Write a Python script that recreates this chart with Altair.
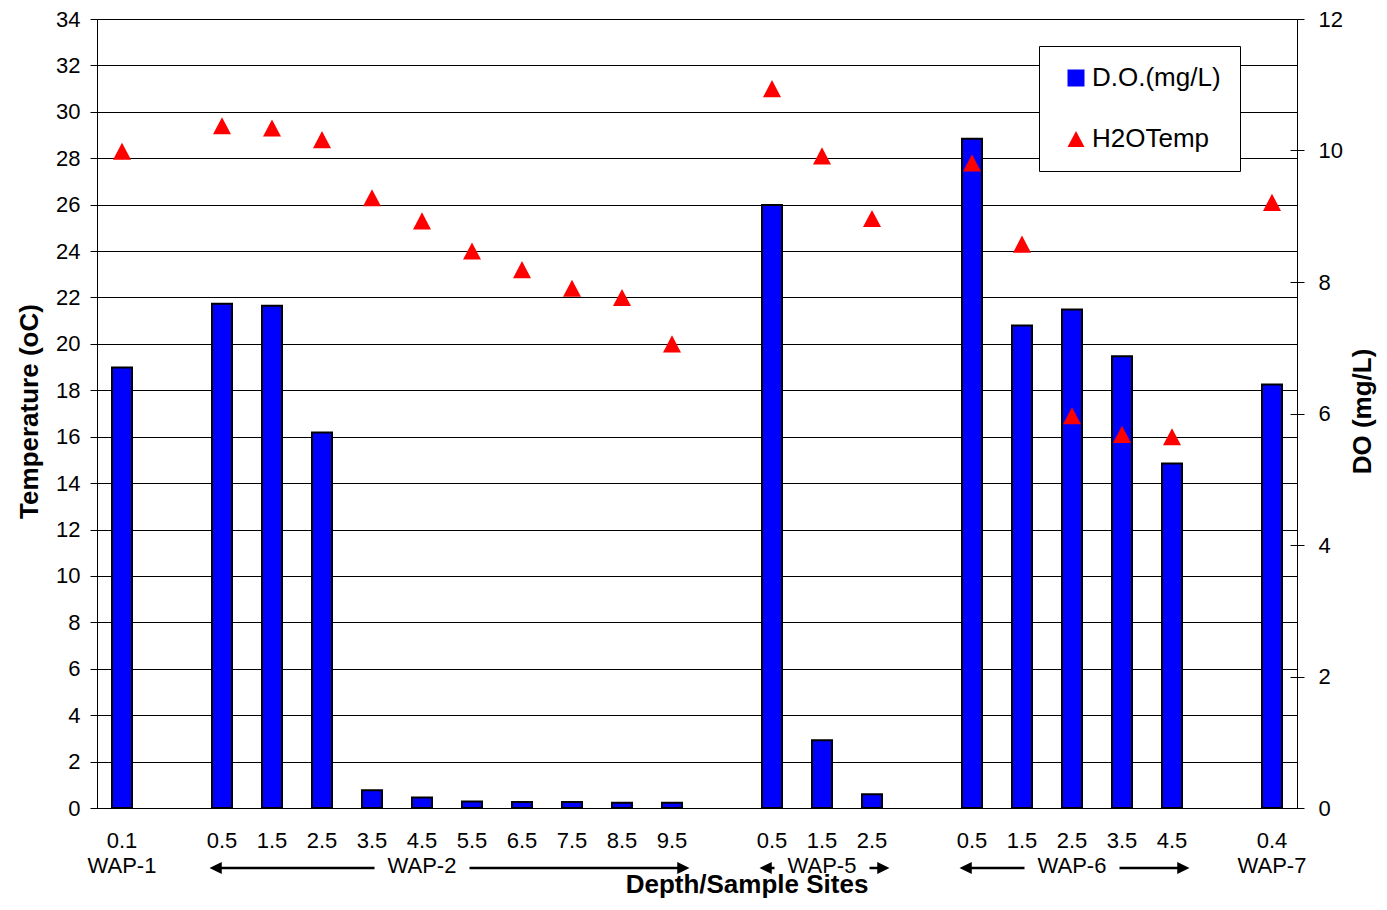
import altair as alt
import pandas as pd

# 24 category slots along the x axis ("" / None = empty slot)
depth = ["0.1", "", "0.5", "1.5", "2.5", "3.5", "4.5", "5.5", "6.5", "7.5", "8.5", "9.5",
         "", "0.5", "1.5", "2.5", "", "0.5", "1.5", "2.5", "3.5", "4.5", "", "0.4"]
do_mgl = [6.70, None, 7.67, 7.64, 5.71, 0.27, 0.16, 0.10, 0.09, 0.09, 0.08, 0.08,
          None, 9.17, 1.03, 0.21, None, 10.18, 7.34, 7.58, 6.87, 5.24, None, 6.44]
h2o_temp = [28.3, None, 29.4, 29.3, 28.8, 26.3, 25.3, 24.0, 23.2, 22.4, 22.0, 20.0,
            None, 31.0, 28.1, 25.4, None, 27.8, 24.3, 16.9, 16.1, 16.0, None, 26.1]

# sample sites: first / last slot of each group and the slot carrying its label
sites = ["WAP-1", "WAP-2", "WAP-5", "WAP-6", "WAP-7"]
site_first = [0, 2, 13, 17, 23]
site_last = [0, 11, 15, 21, 23]
site_label_at = [0, 6, 14, 19, 23]

DO_NAME = "D.O.(mg/L)"
T_NAME = "H2OTemp"
TRIANGLE = "M0,-0.95L1,0.95L-1,0.95Z"
HEAD_LEFT = "M0,0L2,-1L2,1Z"
HEAD_RIGHT = "M0,0L-2,-1L-2,1Z"
FONT = "Liberation Sans"

# --- long table for the two series
rows = []
for i in range(len(depth)):
    if do_mgl[i] is not None:
        rows.append({"pos": i + 0.5, "series": DO_NAME, "value": do_mgl[i]})
    if h2o_temp[i] is not None:
        rows.append({"pos": i + 0.5, "series": T_NAME, "value": h2o_temp[i]})
df = pd.DataFrame(rows)

site_row = [""] * len(depth)
for s, at in zip(sites, site_label_at):
    site_row[at] = s
labels = pd.DataFrame({"pos": [i + 0.5 for i in range(len(depth))],
                       "depth": depth, "site": site_row})

# --- arrows either side of multi-slot site labels
shafts, heads_l, heads_r = [], [], []
for s, a, b, at in zip(sites, site_first, site_last, site_label_at):
    if a == b:
        continue
    c = at + 0.5
    tip_l, tip_r = a + 0.25, b + 1 - 0.15
    shafts.append({"x_start": tip_l + 0.1, "x_end": c - 0.95})
    shafts.append({"x_start": c + 0.95, "x_end": tip_r - 0.1})
    heads_l.append({"pos": tip_l})
    heads_r.append({"pos": tip_r})
shafts = pd.DataFrame(shafts)
heads_l = pd.DataFrame(heads_l)
heads_r = pd.DataFrame(heads_r)

xscale = alt.Scale(domain=[0, 24], nice=False, zero=False, padding=0)
color_scale = alt.Scale(domain=[DO_NAME, T_NAME], range=["#0000FF", "#FF0000"])
shape_scale = alt.Scale(domain=[DO_NAME, T_NAME], range=["square", TRIANGLE])

legend = alt.Legend(
    title=None, orient="none", legendX=942, legendY=27,
    fillColor="white", symbolSize=289, symbolStrokeWidth=0, symbolOffset=5,
    labelFontSize=26, labelOffset=3, labelColor="black", labelFont=FONT,
)

bars = alt.Chart(df).mark_bar(size=20, stroke="black", strokeWidth=2).encode(
    alt.X("pos:Q", scale=xscale,
          axis=alt.Axis(values=list(range(25)), labels=False, grid=False,
                        tickSize=7, tickColor="black", domainColor="black",
                        title=None)),
    alt.Y("value:Q", scale=alt.Scale(domain=[0, 12], nice=False),
          axis=alt.Axis(orient="right", values=list(range(0, 13, 2)), grid=False,
                        domain=False, offset=-7, tickSize=14, tickColor="black",
                        labelPadding=14, labelFontSize=22, labelColor="black",
                        title="DO (mg/L)", titleFontSize=26, titleFontWeight="bold",
                        titleColor="black", titleAngle=270, titleX=80, titleY=392,
                        titleBaseline="alphabetic")),
    alt.Color("series:N", scale=color_scale, legend=legend),
).transform_filter(f"datum.series === '{DO_NAME}'")

temps = alt.Chart(df).mark_point(filled=True, size=324, opacity=1, strokeWidth=0).encode(
    alt.X("pos:Q", scale=xscale, axis=None),
    alt.Y("value:Q", scale=alt.Scale(domain=[0, 34], nice=False),
          axis=alt.Axis(orient="left", values=list(range(0, 35, 2)), grid=True,
                        gridColor="black", gridWidth=1, domainColor="black",
                        tickSize=7, tickColor="black", labelPadding=10,
                        labelFontSize=22, labelColor="black",
                        title="Temperature (oC)", titleFontSize=26,
                        titleFontWeight="bold", titleColor="black", titleAngle=270,
                        titleX=-60, titleY=392, titleBaseline="alphabetic")),
    alt.Color("series:N", scale=color_scale, legend=legend),
    alt.Shape("series:N", scale=shape_scale, legend=legend),
).transform_filter(f"datum.series === '{T_NAME}'")

depth_text = alt.Chart(labels).mark_text(fontSize=22, baseline="alphabetic",
                                         color="black").encode(
    alt.X("pos:Q", scale=xscale, axis=None),
    y=alt.value(829),
    text="depth:N",
)
site_text = alt.Chart(labels).mark_text(fontSize=22, baseline="alphabetic",
                                        color="black").encode(
    alt.X("pos:Q", scale=xscale, axis=None),
    y=alt.value(854),
    text="site:N",
)

# x axis title, placed where the original has it (right of centre)
x_title = alt.Chart(pd.DataFrame({"t": ["Depth/Sample Sites"]})).mark_text(
    fontSize=26, fontWeight="bold", baseline="alphabetic", align="center",
    color="black",
).encode(
    x=alt.value(650),
    y=alt.value(874),
    text="t:N",
)

arrow_shaft = alt.Chart(shafts).mark_rule(strokeWidth=2.5, color="black").encode(
    alt.X("x_start:Q", scale=xscale, axis=None),
    x2="x_end:Q",
    y=alt.value(849),
)
arrow_l = alt.Chart(heads_l).mark_point(shape=HEAD_LEFT, filled=True, size=150,
                                        opacity=1, color="black", strokeWidth=0).encode(
    alt.X("pos:Q", scale=xscale, axis=None),
    y=alt.value(849),
)
arrow_r = alt.Chart(heads_r).mark_point(shape=HEAD_RIGHT, filled=True, size=150,
                                        opacity=1, color="black", strokeWidth=0).encode(
    alt.X("pos:Q", scale=xscale, axis=None),
    y=alt.value(849),
)

chart = alt.layer(
    bars, temps, depth_text, site_text, x_title, arrow_shaft, arrow_l, arrow_r
).resolve_scale(
    y="independent"
).properties(
    width=1200,
    height=789,
    autosize=alt.AutoSizeParams(type="none"),
    padding={"left": 89, "top": 11, "right": 82, "bottom": 90},
).configure(
    font=FONT
).configure_legend(
    strokeColor="black", padding=19, rowPadding=35
).configure_view(
    stroke="black", strokeWidth=1
)

chart.save("out.html", embed_options={"renderer": "svg", "actions": False})
